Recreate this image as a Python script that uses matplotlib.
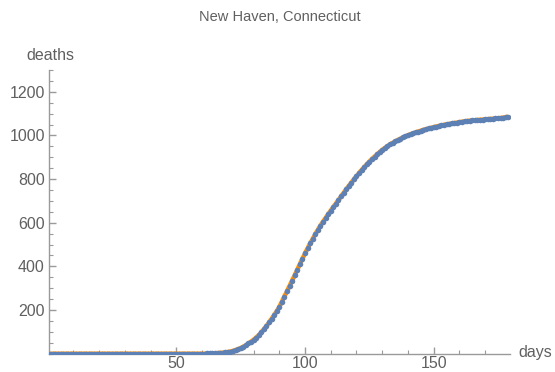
import matplotlib
matplotlib.use("Agg")
import matplotlib.pyplot as plt
from matplotlib.ticker import MultipleLocator, FixedLocator

plt.rcParams['font.family'] = ['Liberation Sans', 'DejaVu Sans']

TITLE = "New Haven, Connecticut"

# cumulative deaths, one value per day (day 1 .. 179)
deaths = [0] * 61 + [
    1, 1, 2, 2, 3, 4, 5, 6, 8,
    10, 13, 17, 21, 26, 32, 39, 47, 55, 64,
    74, 85, 98, 112, 127, 143, 160, 177, 195, 214,
    238, 262, 286, 310, 335, 360, 385, 410, 435, 460,
    483, 505, 527, 548, 568, 587, 605, 622, 639, 656,
    672, 688, 704, 721, 737, 753, 769, 784, 799, 814,
    828, 842, 855, 868, 880, 892, 903, 914, 924, 934,
    943, 951, 959, 966, 973, 979, 985, 991, 996, 1001,
    1006, 1010, 1014, 1018, 1022, 1026, 1029, 1032, 1035, 1038,
    1041, 1044, 1046, 1049, 1051, 1053, 1055, 1057, 1059, 1061,
    1063, 1065, 1066, 1068, 1069, 1070, 1071, 1072, 1073, 1074,
    1075, 1076, 1077, 1078, 1079, 1080, 1082, 1084, 1086,
]
days = list(range(1, len(deaths) + 1))

x_ticks = [50, 100, 150]
y_ticks = [200, 400, 600, 800, 1000, 1200]

text_col = "#606060"
axis_col = "#9a9a9a"

fig = plt.figure(figsize=(5.55, 3.72), dpi=100)
ax = fig.add_axes([49 / 555, 18.3 / 372, (509.6 - 49) / 555, (353.7 - 70) / 372])

ax.plot(days, deaths, color="#ff8c00", lw=3.2, solid_capstyle="butt", zorder=2)
ax.plot(days, deaths, "o", color="#5e81b5", ms=4.0, mew=0, zorder=3)

ax.set_xlim(0.5, 179.5)
ax.set_ylim(0, 1300)

for s in ["top", "right"]:
    ax.spines[s].set_visible(False)
for s in ["left", "bottom"]:
    ax.spines[s].set_color(axis_col)
    ax.spines[s].set_linewidth(1.0)

ax.xaxis.set_major_locator(FixedLocator(x_ticks))
ax.xaxis.set_minor_locator(MultipleLocator(10))
ax.yaxis.set_major_locator(FixedLocator(y_ticks))
ax.yaxis.set_minor_locator(MultipleLocator(50))
ax.tick_params(which="both", direction="in", color=axis_col, labelcolor=text_col,
               labelsize=11.5)
ax.tick_params(which="major", length=5, width=1)
ax.tick_params(which="minor", length=3, width=0.8)
ax.tick_params(axis="x", pad=2)
ax.tick_params(axis="y", pad=3)

fig.text(279.5 / 555, 1 - 17 / 372, TITLE, ha="center", va="center",
         color=text_col, fontsize=10.5)
fig.text(50 / 555, 1 - 56 / 372, "deaths", ha="center", va="center",
         color=text_col, fontsize=11.5)
fig.text(518 / 555, 1 - 353 / 372, "days", ha="left", va="center",
         color=text_col, fontsize=11.5)

fig.savefig("out.png", dpi=100)
